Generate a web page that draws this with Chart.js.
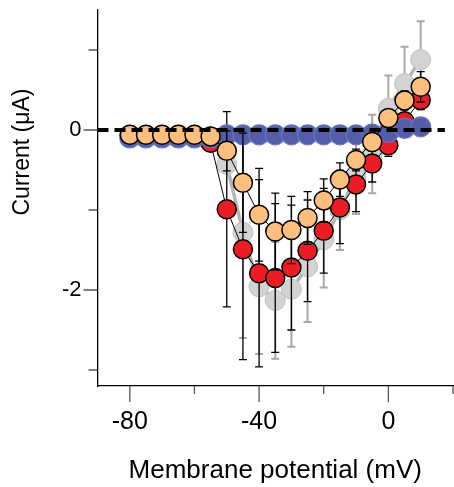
<!DOCTYPE html>
<html><head><meta charset="utf-8">
<script src="https://cdn.jsdelivr.net/npm/chart.js@4.4.1/dist/chart.umd.min.js"></script>
<style>html,body{margin:0;padding:0;background:#fff;}canvas{display:block}</style>
</head><body>
<canvas id="c" width="454" height="487"></canvas>
<script>
// Membrane potential (mV)
const voltages = [-80,-75,-70,-65,-60,-55,-50,-45,-40,-35,-30,-25,-20,-15,-10,-5,0,5,10];
// Current (µA)
const blueCurrent   = [-0.10,-0.10,-0.10,-0.10,-0.10,-0.10,-0.06,-0.06,-0.06,-0.06,-0.06,-0.06,-0.06,-0.06,-0.06,-0.05,-0.03,0.02,0.04];
const grayCurrent   = [-0.06,-0.06,-0.06,-0.06,-0.06,-0.08,-0.43,-1.28,-1.96,-2.13,-1.99,-1.71,-1.37,-1.00,-0.58,-0.30,0.27,0.58,0.88];
const grayError     = [0,0,0,0,0,0.05,0.08,1.32,0.84,0.73,0.72,0.69,0.60,0.50,0.47,0.49,0.41,0.46,0.48];
const redCurrent    = [-0.07,-0.07,-0.07,-0.07,-0.07,-0.16,-0.99,-1.49,-1.79,-1.85,-1.72,-1.51,-1.26,-0.97,-0.68,-0.42,-0.19,0.11,0.375];
const redError      = [0,0,0,0,0,0.05,1.22,1.38,1.17,0.93,0.78,0.635,0.53,0.45,0.34,0.23,0.14,0.10,0.12];
const orangeCurrent = [-0.06,-0.06,-0.06,-0.06,-0.06,-0.08,-0.26,-0.66,-1.06,-1.27,-1.25,-1.10,-0.88,-0.62,-0.375,-0.15,0.15,0.37,0.54];
const orangeError   = [0,0,0,0,0,0.04,0.25,0.62,0.58,0.48,0.42,0.33,0.27,0.21,0.135,0.10,0.10,0.12,0.19];
const xMajorTicks = [-80,-40,0];
const xMinorTicks = [-60,-20,20];
const yMajorTicks = [-2,0];
const yMinorTicks = [-3,-1,1];
const xTitle = 'Membrane potential (mV)';
const yTitle = 'Current (\u03BCA)';

const pts = arr => voltages.map((v,i)=>({x:v, y:arr[i]}));

const errorBars = {
  id:'errorBars',
  beforeDatasetDraw(chart, args){
    const ds = chart.data.datasets[args.index];
    if(!ds.errors) return;
    const ctx = chart.ctx, xs = chart.scales.x, ys = chart.scales.y;
    ctx.save();
    ctx.strokeStyle = ds.errorColor; ctx.lineWidth = ds.errorWidth;
    ds.data.forEach((p,i)=>{
      const e = ds.errors[i]; if(!e) return;
      const px = xs.getPixelForValue(p.x);
      const t = ys.getPixelForValue(p.y+e), b = ys.getPixelForValue(p.y-e);
      ctx.beginPath();
      ctx.moveTo(px,t); ctx.lineTo(px,b);
      ctx.moveTo(px-4,t); ctx.lineTo(px+4,t);
      ctx.moveTo(px-4,b); ctx.lineTo(px+4,b);
      ctx.stroke();
    });
    ctx.restore();
  }
};

const extras = {
  id:'extras',
  afterDatasetsDraw(chart){
    const ctx = chart.ctx, xs = chart.scales.x, ys = chart.scales.y;
    const y0 = ys.getPixelForValue(0);
    ctx.save();
    ctx.strokeStyle = '#000'; ctx.lineWidth = 4; ctx.setLineDash([11,6]);
    ctx.beginPath(); ctx.moveTo(chart.chartArea.left, y0); ctx.lineTo(xs.getPixelForValue(17.5), y0); ctx.stroke();
    ctx.restore();
  },
  afterDraw(chart){
    const ctx = chart.ctx, xs = chart.scales.x, ys = chart.scales.y, a = chart.chartArea;
    ctx.save();
    ctx.strokeStyle = '#555'; ctx.lineWidth = 1.3;
    ctx.beginPath();
    xMajorTicks.forEach(v=>{const p=xs.getPixelForValue(v); ctx.moveTo(p,a.bottom); ctx.lineTo(p,a.bottom+16);});
    xMinorTicks.forEach(v=>{const p=xs.getPixelForValue(v); ctx.moveTo(p,a.bottom); ctx.lineTo(p,a.bottom+8);});
    yMajorTicks.forEach(v=>{const p=ys.getPixelForValue(v); ctx.moveTo(a.left,p); ctx.lineTo(a.left-14,p);});
    yMinorTicks.forEach(v=>{const p=ys.getPixelForValue(v); ctx.moveTo(a.left,p); ctx.lineTo(a.left-9,p);});
    ctx.stroke();
    ctx.fillStyle = '#000';
    ctx.font = '23px "Liberation Sans", Arial, sans-serif';
    ctx.textAlign = 'center'; ctx.textBaseline = 'middle';
    ctx.translate(23, 152); ctx.rotate(-Math.PI/2);
    ctx.fillText(yTitle, 0, 0);
    ctx.restore();
  }
};

new Chart(document.getElementById('c'), {
  type:'scatter',
  data:{ datasets:[
    { label:'orange', data:pts(orangeCurrent), errors:orangeError, errorColor:'#000', errorWidth:1.3, order:1,
      showLine:true, borderColor:'#000', borderWidth:1, pointRadius:9.5, pointBackgroundColor:'#fcbf7e', pointBorderColor:'#000', pointBorderWidth:1.5 },
    { label:'blue', data:pts(blueCurrent), order:2,
      showLine:true, borderColor:'#5962ad', borderWidth:1.5, pointRadius:10, pointBackgroundColor:'#535daa', pointBorderColor:'#6c75ba', pointBorderWidth:1.2 },
    { label:'red', data:pts(redCurrent), errors:redError, errorColor:'#000', errorWidth:1.3, order:3,
      showLine:true, borderColor:'#000', borderWidth:1, pointRadius:9.5, pointBackgroundColor:'#ec1c24', pointBorderColor:'#000', pointBorderWidth:1.5 },
    { label:'gray', data:pts(grayCurrent), errors:grayError, errorColor:'#a8a8a8', errorWidth:2, order:4,
      showLine:true, borderColor:'#b5b5b5', borderWidth:3.5, pointRadius:10, pointBackgroundColor:'#d2d3d3', pointBorderColor:'#bdbfbf', pointBorderWidth:1 }
  ]},
  options:{
    responsive:false, animation:false, devicePixelRatio:1,
    layout:{autoPadding:false, padding:{top:10,right:1,left:0,bottom:0}},
    plugins:{legend:{display:false}, tooltip:{enabled:false}},
    elements:{line:{tension:0}},
    scales:{
      x:{ type:'linear', min:-90, max:20,
        afterBuildTicks(s){ s.ticks = xMajorTicks.map(v=>({value:v})); },
        afterFit(s){ s.height = 101; s.paddingLeft=0; s.paddingRight=0; },
        grid:{display:true, drawOnChartArea:false, drawTicks:true, tickLength:16, color:'rgba(0,0,0,0)'},
        border:{display:true, color:'#000', width:1.3},
        ticks:{ padding:5, color:'#000', font:{family:'"Liberation Sans", Arial, sans-serif', size:25}, maxRotation:0, autoSkip:false },
        title:{ display:true, text:xTitle, color:'#000', font:{family:'"Liberation Sans", Arial, sans-serif', size:26}, padding:{top:0,bottom:1} }
      },
      y:{ type:'linear', min:-3.2, max:1.5,
        afterBuildTicks(s){ s.ticks = yMajorTicks.map(v=>({value:v})); },
        afterFit(s){ s.width = 97.5; s.paddingTop=0; s.paddingBottom=0; },
        grid:{display:true, drawOnChartArea:false, drawTicks:true, tickLength:14, color:'rgba(0,0,0,0)'},
        border:{display:true, color:'#000', width:1.3},
        ticks:{ padding:2, color:'#000', font:{family:'"Liberation Sans", Arial, sans-serif', size:22}, autoSkip:false },
        title:{ display:false }
      }
    }
  },
  plugins:[errorBars, extras]
});
</script>
</body></html>
